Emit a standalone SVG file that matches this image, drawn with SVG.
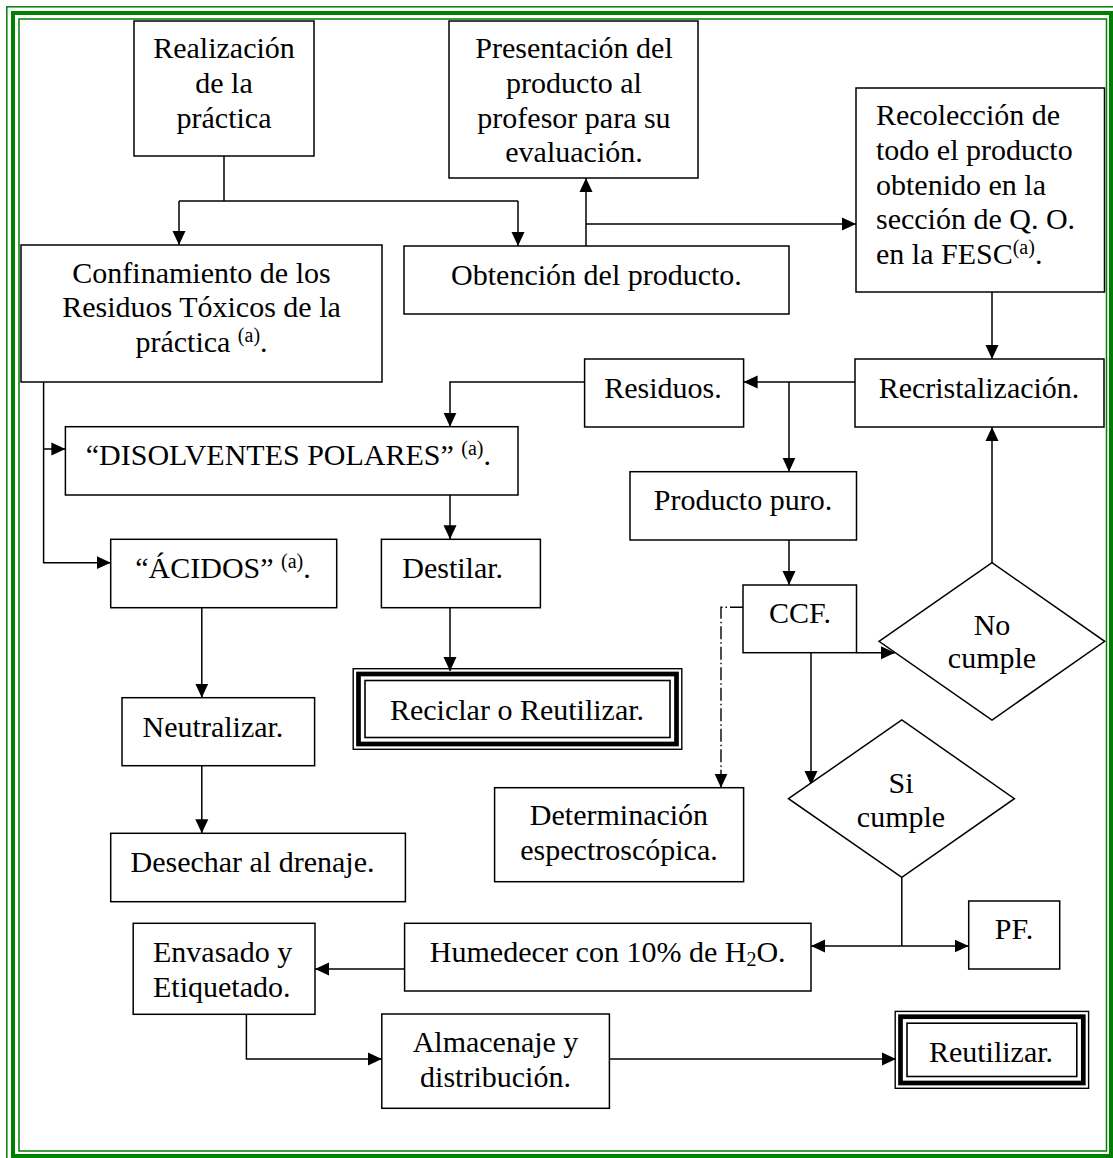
<svg xmlns="http://www.w3.org/2000/svg" width="1113" height="1158" viewBox="0 0 1113 1158">
<style>
.box{fill:#fff;stroke:#000;stroke-width:1.5}
.t{font-family:"Liberation Serif","Times New Roman",serif;font-size:30px;fill:#000}
.c{text-anchor:middle}
.s{font-size:20px}
.ln{fill:none;stroke:#000;stroke-width:1.5}
.dd{fill:none;stroke:#000;stroke-width:1.4;stroke-dasharray:13 3 1.5 3}
.g1{fill:none;stroke:#008000;stroke-width:1.5}
.g2{fill:none;stroke:#008000;stroke-width:4}
.tb1{fill:none;stroke:#000;stroke-width:1.4}
.tb2{fill:none;stroke:#000;stroke-width:4.7}
.tb3{fill:none;stroke:#000;stroke-width:1.6}
</style>
<defs>
<marker id="ah" markerUnits="userSpaceOnUse" markerWidth="15" markerHeight="14" refX="14" refY="7" orient="auto">
<path d="M0,0.5 L14,7 L0,13.5 z" fill="#000"/>
</marker>
</defs>
<rect width="1113" height="1158" fill="#fff"/>
<g id="page-border">
<rect class="g1" x="6.8" y="6.8" width="1110" height="1156"/>
<rect class="g2" x="13" y="13" width="1098" height="1143"/>
<rect class="g1" x="19" y="19" width="1087.5" height="1132"/>
</g>
<g id="connectors">
<path class="ln" d="M224,156 V201"/>
<path class="ln" d="M179,201 H518"/>
<path class="ln" d="M179,201 V245" marker-end="url(#ah)"/>
<path class="ln" d="M518,201 V246" marker-end="url(#ah)"/>
<path class="ln" d="M586,246 V178" marker-end="url(#ah)"/>
<path class="ln" d="M586,224 H856" marker-end="url(#ah)"/>
<path class="ln" d="M992,292 V359" marker-end="url(#ah)"/>
<path class="ln" d="M855,382 H743.6" marker-end="url(#ah)"/>
<path class="ln" d="M789,382 V471.7" marker-end="url(#ah)"/>
<path class="ln" d="M584.6,382 H450 V426.7" marker-end="url(#ah)"/>
<path class="ln" d="M43.6,382 V562.7 H110.7" marker-end="url(#ah)"/>
<path class="ln" d="M43.6,449 H65.4" marker-end="url(#ah)"/>
<path class="ln" d="M450,495 V539.3" marker-end="url(#ah)"/>
<path class="ln" d="M450,607.7 V671" marker-end="url(#ah)"/>
<path class="ln" d="M201.8,607.7 V697.7" marker-end="url(#ah)"/>
<path class="ln" d="M201.8,765.7 V833.3" marker-end="url(#ah)"/>
<path class="ln" d="M789,540 V585" marker-end="url(#ah)"/>
<path class="ln" d="M856.5,652.7 H895" marker-end="url(#ah)"/>
<path class="ln" d="M811,652.7 V785" marker-end="url(#ah)"/>
<path class="ln" d="M992,562.7 V427" marker-end="url(#ah)"/>
<path class="ln" d="M901.8,877.3 V946"/>
<path class="ln" d="M901.8,946 H811" marker-end="url(#ah)"/>
<path class="ln" d="M901.8,946 H968.7" marker-end="url(#ah)"/>
<path class="ln" d="M404.6,969 H315" marker-end="url(#ah)"/>
<path class="ln" d="M246.4,1014.3 V1059 H381.8" marker-end="url(#ah)"/>
<path class="ln" d="M609.4,1059 H896" marker-end="url(#ah)"/>
<path class="dd" d="M743,607.3 H721 V787.7" marker-end="url(#ah)"/>
</g>
<g id="n-realizacion">
<rect class="box" x="134" y="21" width="180" height="135"/>
<text class="t c" x="224" y="58">Realización</text>
<text class="t c" x="224" y="93">de la</text>
<text class="t c" x="224" y="128">práctica</text>
</g>
<g id="n-presentacion">
<rect class="box" x="449" y="21" width="249" height="157"/>
<text class="t c" x="574" y="58">Presentación del</text>
<text class="t c" x="574" y="93">producto al</text>
<text class="t c" x="574" y="128">profesor para su</text>
<text class="t c" x="574" y="162">evaluación.</text>
</g>
<g id="n-obtencion">
<rect class="box" x="404" y="246" width="385" height="68"/>
<text class="t c" x="596.5" y="285">Obtención del producto.</text>
</g>
<g id="n-recoleccion">
<rect class="box" x="856" y="88" width="248.5" height="204"/>
<text class="t" x="876" y="125">Recolección de</text>
<text class="t" x="876" y="160">todo el producto</text>
<text class="t" x="876" y="194.5">obtenido en la</text>
<text class="t" x="876" y="229">sección de Q. O.</text>
<text class="t" x="876" y="263.5">en la FESC<tspan class="s" dy="-10">(a)</tspan><tspan dy="10">.</tspan></text>
</g>
<g id="n-confinamiento">
<rect class="box" x="21" y="245" width="361" height="137"/>
<text class="t c" x="201.5" y="283">Confinamiento de los</text>
<text class="t c" x="201.5" y="317">Residuos Tóxicos de la</text>
<text class="t c" x="201.5" y="352">práctica <tspan class="s" dy="-10">(a)</tspan><tspan dy="10">.</tspan></text>
</g>
<g id="n-residuos">
<rect class="box" x="584.6" y="359" width="159" height="68"/>
<text class="t c" x="663" y="398">Residuos.</text>
</g>
<g id="n-recristalizacion">
<rect class="box" x="855" y="359" width="249" height="68"/>
<text class="t c" x="979" y="398">Recristalización.</text>
</g>
<g id="n-disolventes">
<rect class="box" x="65.4" y="426.7" width="452.6" height="68.3"/>
<text class="t c" x="288.4" y="465">“DISOLVENTES POLARES” <tspan class="s" dy="-10">(a)</tspan><tspan dy="10">.</tspan></text>
</g>
<g id="n-producto-puro">
<rect class="box" x="630" y="471.7" width="226.5" height="68.3"/>
<text class="t c" x="743" y="510">Producto puro.</text>
</g>
<g id="n-acidos">
<rect class="box" x="110.7" y="539.3" width="226" height="68.4"/>
<text class="t c" x="223" y="578.3">“ÁCIDOS” <tspan class="s" dy="-10">(a)</tspan><tspan dy="10">.</tspan></text>
</g>
<g id="n-destilar">
<rect class="box" x="381.4" y="539.3" width="159" height="68.4"/>
<text class="t c" x="452.7" y="578.3">Destilar.</text>
</g>
<g id="n-ccf">
<rect class="box" x="743" y="585" width="113.5" height="67.7"/>
<text class="t c" x="800" y="623.3">CCF.</text>
</g>
<g id="n-no-cumple">
<polygon class="box" points="879,641.3 992,562.7 1104.7,641.3 992,720"/>
<text class="t c" x="992" y="635">No</text>
<text class="t c" x="992" y="668.3">cumple</text>
</g>
<g id="n-neutralizar">
<rect class="box" x="122" y="697.7" width="192.6" height="68"/>
<text class="t c" x="213" y="736.7">Neutralizar.</text>
</g>
<g id="n-reciclar">
<rect class="tb1" x="353.2" y="668.7" width="328.6" height="80.6"/>
<rect class="tb2" x="358.5" y="674" width="318" height="70"/>
<rect class="tb3" x="365" y="680.5" width="305" height="57" fill="#fff"/>
<text class="t c" x="517" y="720">Reciclar o Reutilizar.</text>
</g>
<g id="n-si-cumple">
<polygon class="box" points="788.5,798.7 901.8,720 1014.4,798.7 901.8,877.3"/>
<text class="t c" x="901" y="793.3">Si</text>
<text class="t c" x="901" y="827.3">cumple</text>
</g>
<g id="n-determinacion">
<rect class="box" x="494.6" y="787.7" width="249" height="94"/>
<text class="t c" x="619" y="825">Determinación</text>
<text class="t c" x="619" y="860">espectroscópica.</text>
</g>
<g id="n-desechar">
<rect class="box" x="110.7" y="833.3" width="294.7" height="68.4"/>
<text class="t c" x="252.5" y="871.7">Desechar al drenaje.</text>
</g>
<g id="n-pf">
<rect class="box" x="968.7" y="901" width="91" height="68"/>
<text class="t c" x="1014" y="939.3">PF.</text>
</g>
<g id="n-humedecer">
<rect class="box" x="404.6" y="923.3" width="406.4" height="67.7"/>
<text class="t c" x="607.7" y="961.7">Humedecer con 10% de H<tspan class="s" dy="4">2</tspan><tspan dy="-4">O.</tspan></text>
</g>
<g id="n-envasado">
<rect class="box" x="133.2" y="923.3" width="181.8" height="91"/>
<text class="t" x="153" y="961.7">Envasado y</text>
<text class="t" x="153" y="996.7">Etiquetado.</text>
</g>
<g id="n-almacenaje">
<rect class="box" x="381.8" y="1014" width="227.6" height="94.3"/>
<text class="t c" x="495.5" y="1051.7">Almacenaje y</text>
<text class="t c" x="495.5" y="1086.7">distribución.</text>
</g>
<g id="n-reutilizar">
<rect class="tb1" x="895.2" y="1011.4" width="193.4" height="76.9"/>
<rect class="tb2" x="900.5" y="1016.7" width="182.8" height="66.3"/>
<rect class="tb3" x="907" y="1023.2" width="169.8" height="53.3" fill="#fff"/>
<text class="t c" x="991" y="1061.7">Reutilizar.</text>
</g>
</svg>
